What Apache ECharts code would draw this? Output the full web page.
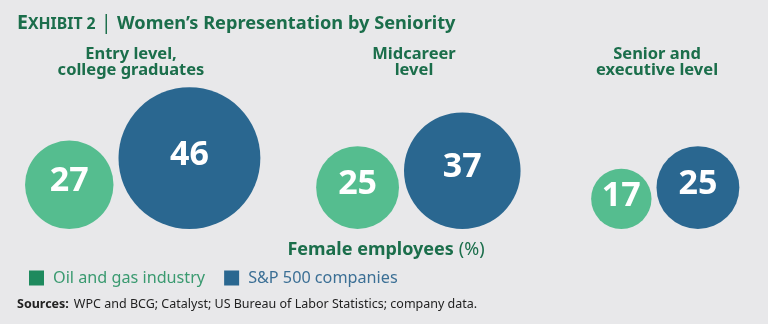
<!DOCTYPE html>
<html>
<head>
<meta charset="utf-8">
<script src="https://cdn.jsdelivr.net/npm/echarts@6/dist/echarts.min.js"></script>
<style>
  html, body { margin: 0; padding: 0; background: #e8e8ea; }
  #chart { width: 768px; height: 324px; }
</style>
</head>
<body>
<div id="chart"></div>
<script>
// Seniority levels and share of female employees (%)
const levels = ['Entry level,\ncollege graduates', 'Midcareer\nlevel', 'Senior and\nexecutive level'];
const oilGas = [27, 25, 17];
const sp500 = [46, 37, 25];
const seriesNames = ['Oil and gas industry', 'S&P 500 companies'];

// Layout of each level's pair of bubbles (centre of the gap between them) and its heading
const pairCentres = [116, 401.5, 654];
const headingCentres = [131, 414, 657];
const baseline = 229;
const gap = 5;

const GREEN = '#55bd8f';
const BLUE = '#2a6790';
const TITLE_GREEN = '#1b6e4b';
const FONT = '"Noto Sans", "Open Sans", sans-serif';

// Bubble diameter grows with the percentage
const diameter = v => 12.6 + 2.81 * v;

const grids = [], xAxes = [], yAxes = [], series = [], titles = [];

const headTok = (size, weight) => ({
  fontFamily: FONT, fontWeight: weight, fontSize: size, color: TITLE_GREEN,
  lineHeight: 24, verticalAlign: 'bottom'
});
titles.push({
  left: 17, top: 9, padding: 0,
  text: '{e|E}{x|XHIBIT 2}{bar| | }{t|Women’s Representation by Seniority}',
  textStyle: {
    rich: {
      e: headTok(19.5, 'bold'),
      x: Object.assign(headTok(15.8, 'bold'), { padding: [0, 0, 1, 0] }),
      bar: headTok(20, 'normal'),
      t: headTok(18.2, 'bold')
    }
  }
});

levels.forEach((lvl, i) => {
  const dG = diameter(oilGas[i]);
  const dB = diameter(sp500[i]);
  grids.push({ left: pairCentres[i] - 100, width: 200, top: 90, height: baseline - 90 });
  xAxes.push({ gridIndex: i, type: 'category', data: [lvl], show: false });
  yAxes.push({ gridIndex: i, type: 'value', min: 0, max: 1, show: false });

  const label = {
    show: true, position: 'inside', offset: [0, -3],
    formatter: p => p.value[2],
    color: '#ffffff', fontFamily: FONT, fontWeight: 'bold', fontSize: 34
  };
  series.push({
    name: seriesNames[0], type: 'scatter', xAxisIndex: i, yAxisIndex: i,
    itemStyle: { color: GREEN, opacity: 1 },
    emphasis: { disabled: true },
    data: [{
      value: [lvl, 0, oilGas[i]],
      symbolSize: dG,
      symbolOffset: [-(gap / 2 + dG / 2), -dG / 2],
      label
    }]
  });
  series.push({
    name: seriesNames[1], type: 'scatter', xAxisIndex: i, yAxisIndex: i,
    itemStyle: { color: BLUE, opacity: 1 },
    emphasis: { disabled: true },
    data: [{
      value: [lvl, 0, sp500[i]],
      symbolSize: dB,
      symbolOffset: [gap / 2 + dB / 2, -dB / 2],
      label
    }]
  });

  titles.push({
    left: headingCentres[i], top: 46, textAlign: 'center', padding: 0,
    text: lvl,
    textStyle: { fontFamily: FONT, fontWeight: 'bold', fontSize: 16.5, lineHeight: 16.5, color: TITLE_GREEN }
  });
});

titles.push({
  left: 386, top: 241, textAlign: 'center', padding: 0,
  text: '{b|Female employees} {n|(%)}',
  textStyle: {
    rich: {
      b: { fontFamily: FONT, fontWeight: 'bold', fontSize: 18, color: TITLE_GREEN },
      n: { fontFamily: FONT, fontWeight: 'normal', fontSize: 18, color: TITLE_GREEN }
    }
  }
});

titles.push({
  left: 17, top: 295, padding: 0,
  text: '{b|Sources:} {n|WPC and BCG; Catalyst; US Bureau of Labor Statistics; company data.}',
  textStyle: {
    rich: {
      b: { fontFamily: FONT, fontWeight: 'bold', fontSize: 12.5, color: '#222222' },
      n: { fontFamily: FONT, fontWeight: 'normal', fontSize: 12.5, color: '#222222' }
    }
  }
});

const chart = echarts.init(document.getElementById('chart'));
chart.setOption({
  backgroundColor: '#e8e8ea',
  animation: false,
  title: titles,
  grid: grids,
  xAxis: xAxes,
  yAxis: yAxes,
  legend: {
    left: 29, top: 270, padding: 0,
    itemWidth: 15, itemHeight: 15, itemGap: 19,
    icon: 'rect',
    selectedMode: false,
    textStyle: { fontFamily: FONT, fontSize: 16.2, padding: [0, 0, 0, 4] },
    data: [
      { name: seriesNames[0], itemStyle: { color: '#1e8a5e' }, textStyle: { color: '#3a9a70' } },
      { name: seriesNames[1], itemStyle: { color: '#2a6790' }, textStyle: { color: '#3b6f95' } }
    ]
  },
  series
});
</script>
</body>
</html>
